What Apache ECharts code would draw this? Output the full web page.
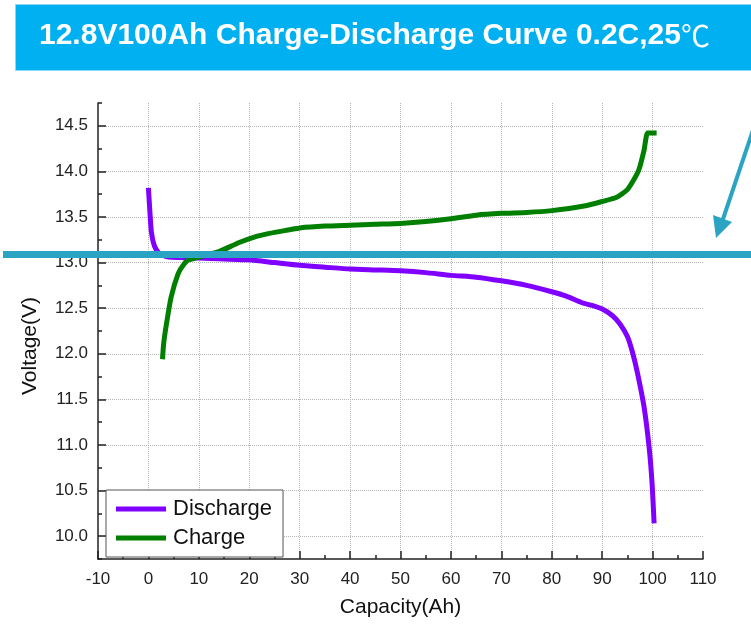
<!DOCTYPE html>
<html>
<head>
<meta charset="utf-8">
<script src="https://cdn.jsdelivr.net/npm/echarts@6/dist/echarts.min.js"></script>
<style>
  html, body { margin: 0; padding: 0; background: #fff; }
  #main { width: 751px; height: 629px; }
</style>
</head>
<body>
<div id="main"></div>
<script>
// capacity (Ah) / voltage (V)
var dischargeCap = [0, 0.3, 0.6, 1.2, 2.0, 2.8, 4, 6, 10, 15, 20, 25, 30, 35, 40, 45, 50, 55, 60, 65, 70, 75, 80, 83, 86, 88, 90, 92, 93.5, 95, 96, 97, 98.3, 99.3, 99.9, 100.3];
var dischargeV = [13.82, 13.55, 13.33, 13.18, 13.11, 13.08, 13.06, 13.055, 13.05, 13.04, 13.03, 13.0, 12.97, 12.95, 12.93, 12.92, 12.91, 12.89, 12.86, 12.84, 12.80, 12.75, 12.68, 12.63, 12.56, 12.53, 12.49, 12.42, 12.33, 12.19, 12.02, 11.79, 11.42, 10.98, 10.58, 10.14];
var chargeCap = [2.8, 3.0, 3.5, 4.5, 5.9, 7, 8, 10, 12, 14, 18, 21, 24, 28, 30, 35, 40, 45, 50, 55, 60, 65, 70, 75, 80, 86.4, 90, 93, 95, 96.5, 97.3, 98.3, 99, 100, 100.8];
var chargeV = [11.94, 12.10, 12.30, 12.62, 12.88, 12.98, 13.03, 13.06, 13.09, 13.12, 13.22, 13.28, 13.32, 13.36, 13.38, 13.40, 13.41, 13.42, 13.43, 13.45, 13.48, 13.52, 13.54, 13.55, 13.57, 13.62, 13.67, 13.72, 13.80, 13.93, 14.02, 14.23, 14.42, 14.42, 14.42];
var yTickLabels = ['10.0', '10.5', '11.0', '11.5', '12.0', '12.5', '13.0', '13.5', '14.0', '14.5'];
var seriesNames = ['Discharge', 'Charge'];

function pairs(xs, ys) {
  return xs.map(function (x, i) { return [x, ys[i]]; });
}

// y axis runs 9.75..14.75, labels on the half volts -> category axis for the labels
var yCats = [''];
yTickLabels.forEach(function (l) { yCats.push(l); yCats.push(''); });
function onHalf(i) { return i % 2 === 1; }

var gridLine = { color: '#b5b5b5', type: 'dotted', width: 1 };
var axisCol = '#222';

var chart = echarts.init(document.getElementById('main'));
chart.setOption({
  backgroundColor: '#fff',
  animation: false,
  grid: { left: 98, right: 48, top: 103, bottom: 70 },
  legend: {
    orient: 'vertical',
    left: 106, top: 490,
    padding: [7, 11, 7, 10],
    itemWidth: 50, itemHeight: 5, itemGap: 5,
    borderColor: '#555', borderWidth: 1, backgroundColor: '#fff',
    textStyle: { fontFamily: 'Liberation Sans', fontSize: 22, color: '#111', lineHeight: 24, padding: [0, 0, 0, 2] },
    data: seriesNames.map(function (n) { return { name: n, icon: 'rect' }; })
  },
  xAxis: {
    type: 'value', min: -10, max: 110, interval: 10,
    name: 'Capacity(Ah)', nameLocation: 'middle', nameGap: 38,
    nameTextStyle: { fontFamily: 'Liberation Sans', fontSize: 21, color: '#111' },
    axisLine: { show: true, onZero: false, lineStyle: { color: axisCol, width: 1.5 } },
    axisTick: { show: true, inside: true, length: 8, lineStyle: { color: axisCol, width: 1.5 } },
    minorTick: { show: true, splitNumber: 2, length: 4, lineStyle: { color: axisCol, width: 1.5 } },
    axisLabel: { fontFamily: 'Liberation Sans', fontSize: 17, color: '#222', margin: 12 },
    splitLine: { show: true, showMinLine: false, showMaxLine: false, lineStyle: gridLine }
  },
  yAxis: [{
    type: 'value', min: 9.75, max: 14.75, interval: 0.25, position: 'left',
    axisLine: { show: true, onZero: false, lineStyle: { color: axisCol, width: 1.5 } },
    axisTick: { show: true, inside: true, length: 4, lineStyle: { color: axisCol, width: 1.5 } },
    axisLabel: { show: false },
    splitLine: { show: false }
  }, {
    type: 'category', data: yCats, boundaryGap: false, position: 'left',
    axisLine: { show: false, onZero: false },
    axisTick: { show: true, inside: true, length: 8, interval: onHalf, lineStyle: { color: axisCol, width: 1.5 } },
    axisLabel: { interval: onHalf, fontFamily: 'Liberation Sans', fontSize: 17, color: '#222', margin: 10 },
    splitLine: { show: true, interval: onHalf, lineStyle: gridLine }
  }],
  series: [{
    name: seriesNames[0], type: 'line', yAxisIndex: 0,
    data: pairs(dischargeCap, dischargeV),
    smooth: 0.2, showSymbol: false, symbol: 'none',
    lineStyle: { color: '#8000ff', width: 5 }, itemStyle: { color: '#8000ff' }
  }, {
    name: seriesNames[1], type: 'line', yAxisIndex: 0,
    data: pairs(chargeCap, chargeV),
    smooth: 0.2, showSymbol: false, symbol: 'none',
    lineStyle: { color: '#007f00', width: 5 }, itemStyle: { color: '#007f00' }
  }],
  graphic: [
    // title banner
    { type: 'rect', left: 15, top: 4, z: 10,
      shape: { width: 745, height: 66 },
      style: { fill: '#00b0f0', stroke: '#8fd8f5', lineWidth: 1 } },
    { type: 'text', x: 39, y: 36, z: 11,
      style: {
        text: '{a|12.8V100Ah Charge-Discharge Curve 0.2C,25}{b|℃}',
        verticalAlign: 'middle',
        rich: {
          a: { fontFamily: 'Liberation Sans', fontWeight: 'bold', fontSize: 30, fill: '#fff' },
          b: { fontFamily: 'Noto Sans CJK SC', fontSize: 29, fill: '#fff' }
        }
      } },
    // y axis title
    { type: 'text', x: 30, y: 346, rotation: Math.PI / 2, z: 11,
      style: { text: 'Voltage(V)', fontFamily: 'Liberation Sans', fontSize: 21, fill: '#111',
               align: 'center', verticalAlign: 'middle' } },
    // teal annotation line and arrow
    { type: 'line', z: 20,
      shape: { x1: 3, y1: 254.5, x2: 751, y2: 254.5 },
      style: { stroke: '#2ba3c3', lineWidth: 7 } },
    { type: 'line', z: 20,
      shape: { x1: 753, y1: 130, x2: 722, y2: 222 },
      style: { stroke: '#2ba3c3', lineWidth: 4 } },
    { type: 'polygon', z: 20,
      shape: { points: [[716, 238], [713, 215], [732, 222]] },
      style: { fill: '#2ba3c3' } }
  ]
});
</script>
</body>
</html>
